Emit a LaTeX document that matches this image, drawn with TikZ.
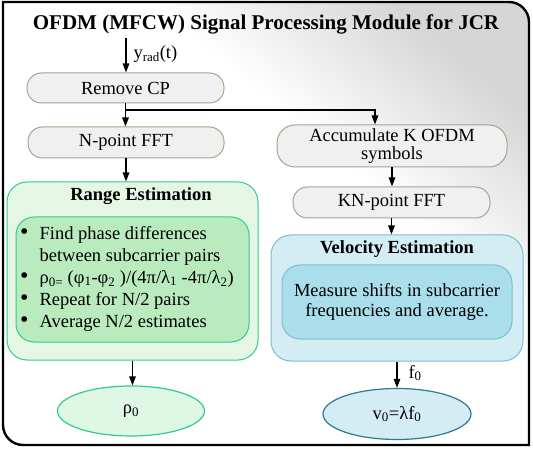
\documentclass[tikz,border=0pt]{standalone}
\usepackage{fontspec}
\setmainfont{Liberation Serif}
\usetikzlibrary{arrows.meta,shapes.geometric}

\definecolor{boxgray}{HTML}{F0F0F0}
\definecolor{boxline}{HTML}{A3A68C}
\definecolor{rngout}{HTML}{E5F6E4}
\definecolor{rngin}{HTML}{B9EBBE}
\definecolor{rngline}{HTML}{30CC8E}
\definecolor{rhofill}{HTML}{DFF8E5}
\definecolor{velout}{HTML}{D4EDF5}
\definecolor{velin}{HTML}{A9DEEA}
\definecolor{velline}{HTML}{78BFD0}
\definecolor{vline}{HTML}{2B7B8B}

\pgfdeclareverticalshading{framefade}{100bp}{color(0bp)=(white); color(25bp)=(white); color(60bp)=(white); color(76bp)=(gray!32); color(100bp)=(gray!32)}

\newcommand{\boxfont}{\rmfamily\fontsize{18.5}{22}\selectfont}
\newcommand{\bigdot}{{\fontsize{24}{22}\selectfont\textbullet}}

\tikzset{
	procbox/.style={draw=boxline, fill=boxgray, line width=1pt, rounded corners=14.5pt, minimum height=30pt, inner sep=0pt},
	rngbox/.style={draw=rngline, fill=rngout, line width=1pt, rounded corners=20pt, inner sep=0pt},
	rnginner/.style={draw=rngline, fill=rngin, line width=1pt, rounded corners=18pt, inner sep=0pt},
	velbox/.style={draw=velline, fill=velout, line width=1pt, rounded corners=20pt, inner sep=0pt},
	velinner/.style={draw=velline, fill=velin, line width=1pt, rounded corners=18pt, inner sep=0pt},
	outell/.style={ellipse, line width=1.2pt, inner sep=0pt},
	arr/.style={-{Triangle[length=9pt,width=6.5pt]}, line width=1.4pt}
}

\begin{document}
\begin{tikzpicture}[x=1pt, y=-1pt, font=\boxfont]
		\useasboundingbox (0,0) rectangle (533,449);
		
		% frame
		\shadedraw[line width=2.4pt, shading=framefade, shading angle=-40]
		(3,2) -- (509,2) .. controls (520,2) and (529,11) .. (529,22) -- (529,445) -- (23,445) .. controls (12,445) and (3,436) .. (3,425) -- cycle;
		
		\node[font=\rmfamily\fontsize{21}{24}\selectfont\bfseries] (title) at (266,24) {OFDM (MFCW) Signal Processing Module for JCR};
		
		% left column
		\coordinate (yin) at (126,38);
		\node[anchor=west] (ylab) at (130,54) {y\textsubscript{rad}(t)};
		\node[procbox, minimum width=197pt] (rcp) at (125.5,88) {Remove CP};
		\node[procbox, minimum width=196pt, minimum height=31pt] (nfft) at (126,142.5) {N-point FFT};
		
		\node[rngbox, minimum width=251pt, minimum height=178pt] (range) at (132.5,271) {};
		\node[font=\boxfont\bfseries] (rtitle) at (141,196) {Range Estimation};
		\node[rnginner, minimum width=233pt, minimum height=125pt] (rin) at (132.5,279.5) {};
		\node[anchor=west, inner sep=0pt] (rtxt) at (20,279) {%
			\begin{tabular}{@{}l@{\hspace{11pt}}l@{}}
				\bigdot & Find phase differences\\
				& between subcarrier pairs\\
				\bigdot & ρ\textsubscript{0=} (φ\textsubscript{1}-φ\textsubscript{2} )/(4π/λ\textsubscript{1} -4π/λ\textsubscript{2})\\
				\bigdot & Repeat for N/2 pairs\\
				\bigdot & Average N/2 estimates
			\end{tabular}};
		\node[outell, draw=rngline, fill=rhofill, minimum width=147pt, minimum height=50pt] (rho) at (131,411) {ρ\textsubscript{0}};
		
		% right column
		\node[procbox, minimum width=230pt, minimum height=42pt, rounded corners=18pt, align=center, font=\rmfamily\fontsize{18.5}{17.5}\selectfont] (acc) at (392,146) {Accumulate K OFDM\\symbols};
		\node[procbox, minimum width=197pt, minimum height=31pt] (knfft) at (391.5,202.5) {KN-point FFT};
		
		\node[velbox, minimum width=252pt, minimum height=126pt] (vel) at (397,298) {};
		\node[font=\boxfont\bfseries] (vtitle) at (397,249) {Velocity Estimation};
		\node[velinner, minimum width=230pt, minimum height=74pt, align=center, font=\rmfamily\fontsize{18.5}{20}\selectfont] (vin) at (397,302) {Measure shifts in subcarrier\\frequencies and average.};
		\node[outell, draw=vline, fill=velout, minimum width=148pt, minimum height=51pt] (v0) at (397,414) {v\textsubscript{0}=λf\textsubscript{0}};
		\node[anchor=west] (flab) at (405,373) {f\textsubscript{0}};
		
		% connectors
		\coordinate (split) at (126,110);
		\coordinate (br) at (375,110);
		\draw[arr] (yin) -- (yin |- rcp.north);
		\draw[arr] (rcp.south) -- (rcp.south |- nfft.north);
		\draw[arr] (split) -| (br |- acc.north);
		\draw[arr] (nfft.south) -- (nfft.south |- range.north);
		\draw[arr] (range.south) -- (range.south |- rho.north);
		\draw[arr] (acc.south) -- (acc.south |- knfft.north);
		\draw[arr] (knfft.south) -- (knfft.south |- vel.north);
		\draw[arr] (vel.south) -- (vel.south |- v0.north);
\end{tikzpicture}
\end{document}
